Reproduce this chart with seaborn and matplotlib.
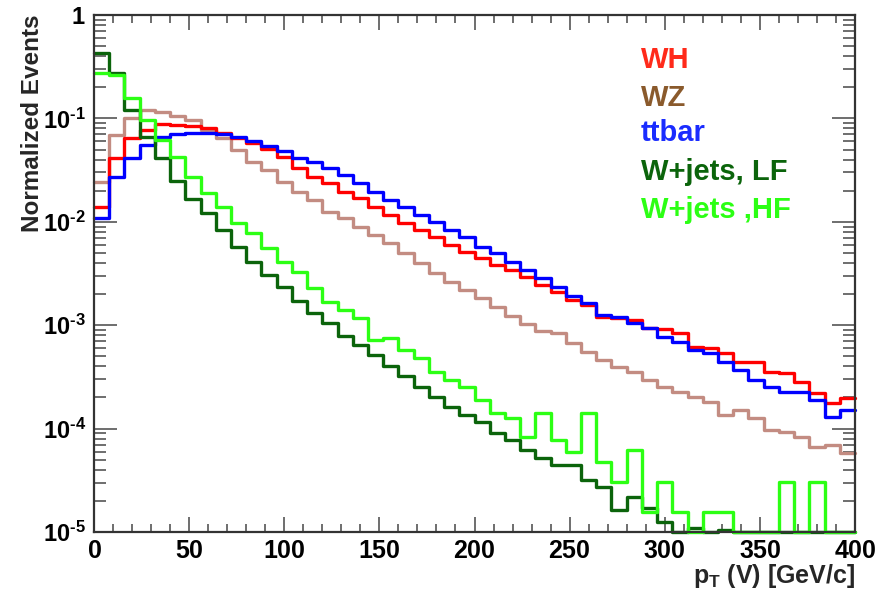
import numpy as np
import pandas as pd
import matplotlib
matplotlib.use("Agg")
import matplotlib.pyplot as plt
import seaborn as sns
from matplotlib import font_manager as fm
from matplotlib.ticker import FixedLocator, FixedFormatter, LogLocator, NullFormatter, MultipleLocator

# ---------------- data ----------------
bin_width = 8
pt_low = np.arange(0, 400, bin_width)          # lower edges of the 50 pT bins [GeV/c]

samples = ["WH", "WZ", "ttbar", "W+jets, LF", "W+jets ,HF"]

wh = [0.0140, 0.0411, 0.0642, 0.0773, 0.0883, 0.0863, 0.0843, 0.0806, 0.0722, 0.0642,
      0.0578, 0.0505, 0.0420, 0.0329, 0.0273, 0.0236, 0.0195, 0.0169, 0.0140, 0.0116,
      0.00967, 0.00833, 0.00718, 0.00597, 0.00514, 0.00443, 0.00382, 0.00342, 0.00294, 0.00245,
      0.00209, 0.00175, 0.00157, 0.00121, 0.00117, 0.00112, 0.000933, 0.000912, 0.000835, 0.000620,
      0.000598, 0.000535, 0.000444, 0.000444, 0.000355, 0.000343, 0.000284, 0.000219, 0.000176, 0.000196]

wz = [0.0244, 0.0690, 0.100, 0.120, 0.116, 0.105, 0.0966, 0.0773, 0.0642, 0.0495,
      0.0381, 0.0317, 0.0244, 0.0195, 0.0162, 0.0125, 0.0108, 0.00897, 0.00745, 0.00619,
      0.00496, 0.00397, 0.00318, 0.00264, 0.00219, 0.00182, 0.00150, 0.00124, 0.00103, 0.000879,
      0.000835, 0.000668, 0.000554, 0.000461, 0.000397, 0.000355, 0.000295, 0.000254, 0.000228, 0.000204,
      0.000182, 0.000135, 0.000151, 0.000126, 9.69e-5, 9.33e-5, 8.36e-5, 6.68e-5, 6.93e-5, 5.77e-5]

ttbar = [0.0110, 0.0273, 0.0411, 0.0553, 0.0661, 0.0706, 0.0722, 0.0722, 0.0706, 0.0661,
         0.0604, 0.0541, 0.0484, 0.0411, 0.0381, 0.0329, 0.0284, 0.0236, 0.0195, 0.0162,
         0.0140, 0.0116, 0.0100, 0.00833, 0.00718, 0.00575, 0.00496, 0.00411, 0.00342, 0.00284,
         0.00234, 0.00192, 0.00164, 0.00126, 0.00120, 0.00105, 0.000940, 0.000774, 0.000692, 0.000575,
         0.000535, 0.000444, 0.000369, 0.000295, 0.000254, 0.000228, 0.000228, 0.000189, 0.000130, 0.000151]

wjets_lf = [0.426, 0.273, 0.121, 0.0665, 0.0411, 0.0248, 0.0166, 0.0121, 0.00833, 0.00575,
            0.00411, 0.00306, 0.00236, 0.00171, 0.00130, 0.00104, 0.000787, 0.000644, 0.000515, 0.000403,
            0.000323, 0.000253, 0.000202, 0.000163, 0.000135, 0.000117, 9.0e-5, 7.8e-5, 6.2e-5, 5.2e-5,
            4.45e-5, 4.45e-5, 3.18e-5, 2.74e-5, 1.63e-5, 2.19e-5, 1.69e-5, 1.26e-5, 0, 1.09e-5,
            0, 1.05e-5, 0, 0, 0, 0, 0, 0, 0, 0]

wjets_hf = [0.277, 0.260, 0.156, 0.0966, 0.0618, 0.0426, 0.0273, 0.0188, 0.0138, 0.00967,
            0.00774, 0.00554, 0.00411, 0.00329, 0.00228, 0.00166, 0.00140, 0.00117, 0.000719, 0.000747,
            0.000575, 0.000482, 0.000353, 0.000295, 0.000254, 0.000189, 0.000141, 0.000126, 8.36e-5, 0.000141,
            7.76e-5, 5.98e-5, 0.000141, 4.79e-5, 3.06e-5, 6.21e-5, 1.57e-5, 3.06e-5, 1.57e-5, 0,
            1.57e-5, 1.57e-5, 0, 0, 0, 3.06e-5, 0, 3.06e-5, 0, 0]

y_ticks = [1e-5, 1e-4, 1e-3, 1e-2, 1e-1, 1]
y_tick_labels = [r"$\mathbf{10^{\text{-}5}}$", r"$\mathbf{10^{\text{-}4}}$", r"$\mathbf{10^{\text{-}3}}$",
                 r"$\mathbf{10^{\text{-}2}}$", r"$\mathbf{10^{\text{-}1}}$", r"$\mathbf{1}$"]
x_ticks = [0, 50, 100, 150, 200, 250, 300, 350, 400]

# ---------------- style ----------------
line_colors = {"WH": "#ff0000", "WZ": "#c38c82", "ttbar": "#0000ff",
               "W+jets, LF": "#0b640b", "W+jets ,HF": "#2cff14"}
text_colors = {"WH": "#ff2a1a", "WZ": "#8a5a2c", "ttbar": "#1a2cff",
               "W+jets, LF": "#0b640b", "W+jets ,HF": "#2cff14"}

sns.set_style("ticks")
names = set(fm.get_font_names())
NARROW = "Liberation Sans Narrow" if "Liberation Sans Narrow" in names else "Liberation Sans"
plt.rcParams["font.family"] = ["Liberation Sans", "DejaVu Sans"]
plt.rcParams["mathtext.fontset"] = "custom"
for k in ("rm", "bf", "it", "sf"):
    plt.rcParams["mathtext." + k] = NARROW + ":bold"

ymin = 1e-5
frames = []
for name, vals in zip(samples, [wh, wz, ttbar, wjets_lf, wjets_hf]):
    v = np.clip(np.asarray(vals, dtype=float), ymin, None)   # empty bins drawn on the floor
    frames.append(pd.DataFrame({"pt": pt_low + bin_width / 2, "value": v, "sample": name}))
df = pd.concat(frames, ignore_index=True)

fig = plt.figure(figsize=(8.92, 5.93), dpi=100)
ax = fig.add_axes([94 / 892, 1 - 532 / 593, 761 / 892, 517 / 593])

draw_order = ["W+jets ,HF", "W+jets, LF", "ttbar", "WH", "WZ"]
sns.histplot(data=df, x="pt", weights="value", hue="sample", hue_order=draw_order,
             palette=line_colors, binwidth=bin_width, binrange=(0, 400), element="step",
             fill=False, linewidth=2.4, legend=False, ax=ax, clip_on=False)

ax.set_yscale("log")
ax.set_ylim(ymin, 1)
ax.set_xlim(0, 400)

ax.yaxis.set_major_locator(FixedLocator(y_ticks))
ax.yaxis.set_major_formatter(FixedFormatter(y_tick_labels))
ax.yaxis.set_minor_locator(LogLocator(base=10, subs=np.arange(2, 10)))
ax.yaxis.set_minor_formatter(NullFormatter())
ax.xaxis.set_major_locator(FixedLocator(x_ticks))
ax.xaxis.set_major_formatter(FixedFormatter([r"$\mathbf{%d}$" % t for t in x_ticks]))
ax.xaxis.set_minor_locator(MultipleLocator(10))

ax.tick_params(axis="both", which="both", direction="in", top=True, right=True,
               color="#555555", width=1.2, labelcolor="black")
ax.tick_params(axis="y", which="major", length=16.5, pad=6, labelsize=17)
ax.tick_params(axis="y", which="minor", length=8.5)
ax.tick_params(axis="x", which="major", length=10.5, pad=5, labelsize=18)
ax.tick_params(axis="x", which="minor", length=5.5)
for s in ax.spines.values():
    s.set_linewidth(1.6)
    s.set_color("#333333")

ax.set_ylabel("Normalized Events", fontsize=17.5, fontweight="bold", loc="top")
ax.yaxis.set_label_coords(-0.066, 1.0)
ax.set_xlabel(r"$\mathbf{p_{T}}$ (V) [GeV/c]", fontsize=18, fontweight="bold",
              fontfamily=NARROW, loc="right")
ax.xaxis.set_label_coords(1.0, -0.058)

legend_y = [60, 98, 133, 172, 210]
for name, yy in zip(samples, legend_y):
    fig.text(641 / 892, 1 - yy / 593, name, color=text_colors[name], fontsize=21,
             fontweight="bold", ha="left", va="center")

fig.savefig("out.png", dpi=100, facecolor="white")
